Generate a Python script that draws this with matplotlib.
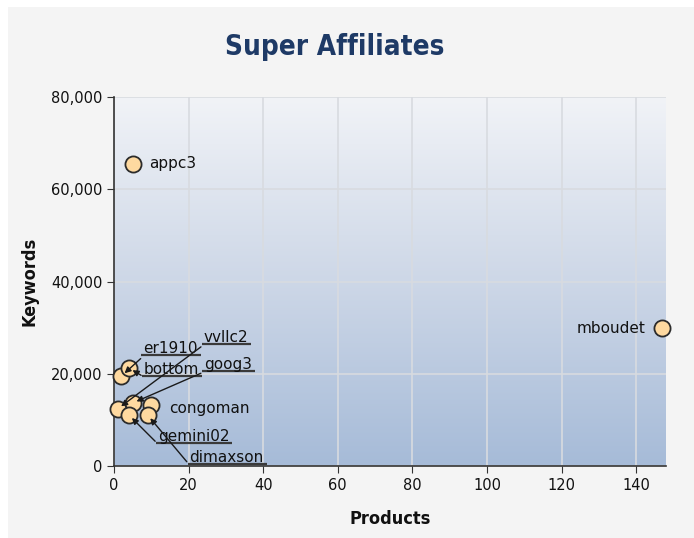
'''
Super Affiliates scatter: products vs keywords
'''
import numpy as np
import matplotlib
matplotlib.use('Agg')
from matplotlib import pyplot as plt
from matplotlib.text import Text
from matplotlib.patches import Rectangle
from matplotlib.colors import LinearSegmentedColormap
from matplotlib.ticker import FuncFormatter, MultipleLocator

## data
names = ['appc3', 'mboudet', 'er1910', 'bottom', 'vvllc2',
         'goog3', 'congoman', 'gemini02', 'dimaxson']
products = [5, 147, 2, 4, 1, 5, 10, 4, 9]
keywords = [65500, 29900, 19500, 21250, 12400, 13650, 13200, 11050, 11050]

## label placement, in pixels from the point (dy positive = down)
plain = {'appc3': (16, 0, 'left'), 'mboudet': (-17, 0, 'right'),
         'congoman': (18, 3, 'left')}
callout = {'er1910': (22, -20), 'bottom': (15, 9), 'vvllc2': (86, -64),
           'goog3': (71, -31), 'gemini02': (29, 29), 'dimaxson': (42, 50)}

W, H, DPI = 694, 538, 100
PT = 72 / DPI
fig = plt.figure(figsize=(W / DPI, H / DPI), dpi=DPI)
fig.patch.set_facecolor('white')
fig.add_artist(Rectangle((8 / W, 0), 1, 1 - 7 / H, transform=fig.transFigure,
                         facecolor='#f4f4f4', edgecolor='none', zorder=-5))

ax = fig.add_axes([114 / W, 1 - 466 / H, (666 - 114) / W, (466 - 97) / H])
ax.set_facecolor('none')
cmap = LinearSegmentedColormap.from_list('bg', ['#f1f3f7', '#cdd7e7', '#a6bbd8'])
ax.imshow(np.linspace(0, 1, 256).reshape(-1, 1), cmap=cmap, aspect='auto',
          extent=[0, 1, 0, 1], transform=ax.transAxes, zorder=0)

ax.scatter(products, keywords, s=135, facecolor='#fed9a0', edgecolor='#2b2b2b',
           linewidth=1.3, zorder=3, clip_on=False)

ax.set_xlim(0, 148)
ax.set_ylim(0, 80000)
ax.xaxis.set_major_locator(MultipleLocator(20))
ax.yaxis.set_major_locator(MultipleLocator(20000))
ax.yaxis.set_major_formatter(FuncFormatter(lambda v, p: '{:,.0f}'.format(v)))
ax.grid(True, color='#d8dbe0', lw=1.2)
ax.set_axisbelow(True)
for s in ['top', 'right']:
    ax.spines[s].set_visible(False)
for s in ['left', 'bottom']:
    ax.spines[s].set_color('#333333')
    ax.spines[s].set_linewidth(1.2)
ax.tick_params(direction='out', length=5, color='#333333', labelsize=10.5,
               labelcolor='#111111')

anns = []
for n, x, y in zip(names, products, keywords):
    if n in plain:
        dx, dy, ha = plain[n]
        ax.annotate(n, xy=(x, y), xytext=(dx * PT, -dy * PT),
                    textcoords='offset points', ha=ha, va='center',
                    fontsize=11, color='#111111', zorder=6)
    else:
        dx, dy = callout[n]
        a = ax.annotate(n, xy=(x, y), xytext=(dx * PT, -dy * PT),
                        textcoords='offset points', ha='left', va='bottom',
                        fontsize=11, color='#111111', zorder=6,
                        arrowprops=dict(arrowstyle='-|>', color='#1a1a1a',
                                        lw=1.0, mutation_scale=9, shrinkA=0,
                                        shrinkB=3, relpos=(0, 0)))
        anns.append(a)

## underline under the callout labels (text box only, not the arrow)
fig.canvas.draw()
rend = fig.canvas.get_renderer()
inv = ax.transData.inverted()
for a in anns:
    bb = Text.get_window_extent(a, rend)
    p0 = inv.transform((bb.x0 - 2, bb.y0 + 1))
    p1 = inv.transform((bb.x1 + 3, bb.y0 + 1))
    ax.plot([p0[0], p1[0]], [p0[1], p1[1]], color='#3a3a3a', lw=1.6,
            clip_on=False, zorder=5, solid_capstyle='butt')

fig.text(335 / W, 1 - 47 / H, 'Super Affiliates', ha='center', va='center',
         fontsize=20, fontweight='bold', fontstretch='condensed',
         color='#1e3a66')
fig.text(390 / W, 1 - 519 / H, 'Products', ha='center', va='center',
         fontsize=13, fontweight='bold', fontstretch='condensed', color='#111111')
fig.text(30 / W, 1 - 281 / H, 'Keywords', ha='center', va='center', rotation=90,
         fontsize=13, fontweight='bold', fontstretch='condensed', color='#111111')

fig.savefig('out.png', dpi=DPI)
